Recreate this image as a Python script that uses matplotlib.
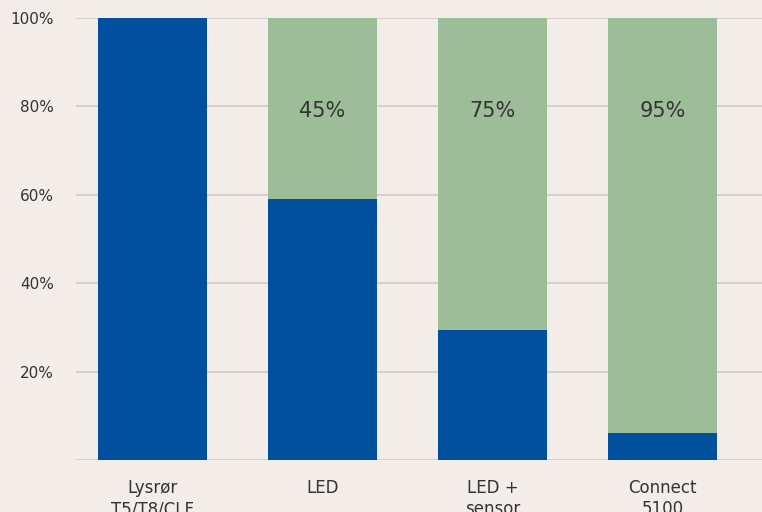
import matplotlib.pyplot as plt
import numpy as np

plt.rcParams['font.family'] = ['DejaVu Sans']

# Energy share per lighting type (blue = remaining use, green = saving)
categories = ['Lysrør\nT5/T8/CLF', 'LED', 'LED +\nsensor', 'Connect\n5100']
usage = [100, 59, 29.5, 6]
saving = [0, 41, 70.5, 94]
saving_labels = ['', '45%', '75%', '95%']
yticks = [20, 40, 60, 80, 100]

bg = '#f2ede9'
blue = '#00509e'
green = '#9dbd98'
txt = '#333333'

fig = plt.figure(figsize=(7.62, 5.12), dpi=100)
fig.patch.set_facecolor(bg)
ax = fig.add_axes([0.0997, 0.1016, 0.9003, 0.8632])
ax.set_facecolor(bg)

x = np.arange(len(categories))
ax.bar(x, usage, width=0.64, color=blue, zorder=3)
ax.bar(x, saving, width=0.64, bottom=usage, color=green, zorder=3)

for xi, lab in zip(x, saving_labels):
    if lab:
        ax.text(xi, 79, lab, ha='center', va='center', fontsize=15,
                color=txt, zorder=4)

for y in [0] + yticks:
    ax.axhline(y, color='#d6d0cb', linewidth=1.4, zorder=1)

ax.set_xlim(-0.45, 3.585)
ax.set_ylim(0, 100)
ax.set_yticks(yticks)
ax.set_yticklabels([f'{t}%' for t in yticks], fontsize=11, color=txt)
ax.set_xticks(x)
ax.set_xticklabels(categories, fontsize=12, color=txt, linespacing=1.2)
ax.tick_params(axis='both', length=0)
ax.tick_params(axis='y', pad=16)
ax.tick_params(axis='x', pad=14)
for s in ax.spines.values():
    s.set_visible(False)

plt.savefig('out.png', dpi=100, facecolor=bg)
